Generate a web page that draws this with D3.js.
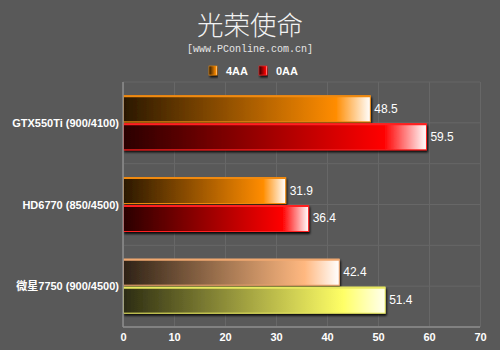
<!DOCTYPE html>
<html>
<head>
<meta charset="utf-8">
<script src="https://cdn.jsdelivr.net/npm/d3@7"></script>
<style>
  html, body { margin: 0; padding: 0; background: #595959; }
  #chart { width: 500px; height: 350px; }
</style>
</head>
<body>
<div id="chart"></div>
<script>
const categories = ["GTX550Ti (900/4100)", "HD6770 (850/4500)", "微星7750 (900/4500)"];
const seriesNames = ["4AA", "0AA"];
const values4AA = [48.5, 31.9, 42.4];
const values0AA = [59.5, 36.4, 51.4];
const xTicks = [0, 10, 20, 30, 40, 50, 60, 70];

// colour ramps per category / series: [dark, full, light, edge]
const palette = [
    [["#2a1804", "#ff8c00", "#ffffff", "#f08a10"], ["#2a0000", "#ff0000", "#ffffff", "#ff2020"]],
    [["#2a1804", "#ff8c00", "#ffffff", "#f08a10"], ["#2a0000", "#ff0000", "#ffffff", "#ff2020"]],
    [["#2e2216", "#ffb880", "#ffffff", "#f0a870"], ["#2c2c12", "#ffff66", "#ffffee", "#e8e860"]]
];
const fullStop = ["86%", "86%", "84%"];

const width = 500, height = 350;
const margin = { top: 82, right: 20, bottom: 23, left: 123 };
const plotH = height - margin.top - margin.bottom;

const svg = d3.select("#chart").append("svg")
    .attr("width", width)
    .attr("height", height);

const defs = svg.append("defs");
const shadow = defs.append("filter").attr("id", "shadow")
    .attr("x", "-5%").attr("y", "-20%").attr("width", "115%").attr("height", "160%");
shadow.append("feDropShadow")
    .attr("dx", 1).attr("dy", 2).attr("stdDeviation", 0.8)
    .attr("flood-color", "#000").attr("flood-opacity", 0.9);

palette.forEach((cat, ci) => {
    cat.forEach((c, si) => {
        const g = defs.append("linearGradient")
            .attr("id", `grad-${ci}-${si}`)
            .attr("x1", "0%").attr("x2", "100%").attr("y1", "0%").attr("y2", "0%");
        g.append("stop").attr("offset", "0%").attr("stop-color", c[0]);
        g.append("stop").attr("offset", fullStop[ci]).attr("stop-color", c[1]);
        g.append("stop").attr("offset", "100%").attr("stop-color", c[2]);
    });
});

// title
svg.append("text")
    .attr("x", width / 2)
    .attr("y", 35)
    .attr("text-anchor", "middle")
    .attr("fill", "#f2f2f2")
    .style("font-family", "'Noto Sans CJK SC', sans-serif")
    .style("font-weight", "300")
    .style("font-size", "26.5px")
    .text("光荣使命");

svg.append("text")
    .attr("x", width / 2)
    .attr("y", 52)
    .attr("text-anchor", "middle")
    .attr("fill", "#e6e6e6")
    .style("font-family", "'Liberation Mono', 'DejaVu Sans Mono', monospace")
    .style("font-size", "10px")
    .text("[www.PConline.com.cn]");

// legend
const legendX = [209, 259];
seriesNames.forEach((name, i) => {
    svg.append("rect")
        .attr("x", legendX[i])
        .attr("y", 66)
        .attr("width", 8)
        .attr("height", 9)
        .attr("fill", `url(#grad-0-${i})`)
        .attr("stroke", palette[0][i][3])
        .attr("stroke-width", 0.6)
        .attr("filter", "url(#shadow)");
    svg.append("text")
        .attr("x", legendX[i] + 17)
        .attr("y", 75)
        .attr("fill", "#ffffff")
        .style("font-family", "'Liberation Sans', Arial, sans-serif")
        .style("font-weight", "bold")
        .style("font-size", "11px")
        .text(name);
});

const g = svg.append("g")
    .attr("transform", `translate(${margin.left},${margin.top})`);

const x = d3.scaleLinear().domain([0, 70]).range([0, 357]);
const y = d3.scaleBand().domain(categories).range([0, plotH]);
const ySub = d3.scaleBand().domain(seriesNames)
    .range([y.bandwidth() / 2 - 27, y.bandwidth() / 2 + 27]).paddingInner(0.07);

// grid
g.append("g")
    .call(d3.axisBottom(x).tickValues(xTicks).tickSize(plotH).tickFormat(""))
    .call(s => s.select(".domain").remove())
    .selectAll("line")
    .attr("stroke", "#676767")
    .attr("stroke-width", 1);

const hLines = d3.range(0, 7).map(i => i * plotH / 6);
g.append("g").selectAll("line").data(hLines).join("line")
    .attr("x1", 0).attr("x2", x(70))
    .attr("y1", d => d).attr("y2", d => d)
    .attr("stroke", "#676767");

// bars
const rows = [];
categories.forEach((c, ci) => {
    rows.push({ cat: c, ci, si: 0, s: seriesNames[0], v: values4AA[ci] });
    rows.push({ cat: c, ci, si: 1, s: seriesNames[1], v: values0AA[ci] });
});

const bars = g.append("g").selectAll("g").data(rows).join("g")
    .attr("transform", d => `translate(0,${y(d.cat) + ySub(d.s)})`);

bars.append("rect")
    .attr("x", 0.5)
    .attr("y", 0)
    .attr("width", d => x(d.v) - 0.5)
    .attr("height", ySub.bandwidth())
    .attr("fill", d => `url(#grad-${d.ci}-${d.si})`)
    .attr("stroke", d => palette[d.ci][d.si][3])
    .attr("stroke-width", 1)
    .attr("filter", "url(#shadow)");

bars.append("line")
    .attr("x1", 0.5).attr("x2", d => x(d.v))
    .attr("y1", 0.5).attr("y2", 0.5)
    .attr("stroke", d => palette[d.ci][d.si][3])
    .attr("stroke-width", 2);

bars.append("text")
    .attr("x", d => x(d.v) + 4)
    .attr("y", ySub.bandwidth() / 2 + 4)
    .attr("fill", "#ffffff")
    .style("font-family", "'Liberation Sans', Arial, sans-serif")
    .style("font-size", "12px")
    .text(d => d.v.toFixed(1));

// axes
g.append("line")
    .attr("x1", 0).attr("x2", 0).attr("y1", 0).attr("y2", plotH)
    .attr("stroke", "#8c8c8c").attr("stroke-width", 1.5);
g.append("line")
    .attr("x1", 0).attr("x2", x(70)).attr("y1", plotH).attr("y2", plotH)
    .attr("stroke", "#8c8c8c").attr("stroke-width", 1.5);

g.append("g")
    .attr("transform", `translate(0,${plotH})`)
    .call(d3.axisBottom(x).tickValues(xTicks).tickSize(0).tickPadding(6))
    .call(s => s.select(".domain").remove())
    .selectAll("text")
    .attr("fill", "#ffffff")
    .style("font-family", "'Liberation Sans', Arial, sans-serif")
    .style("font-weight", "bold")
    .style("font-size", "11px");

g.append("g")
    .selectAll("text").data(categories).join("text")
    .attr("x", -4)
    .attr("y", d => y(d) + y.bandwidth() / 2 + 4)
    .attr("text-anchor", "end")
    .attr("fill", "#ffffff")
    .style("font-family", "'Liberation Sans', 'Noto Sans CJK SC', Arial, sans-serif")
    .style("font-weight", "bold")
    .style("font-size", "11px")
    .text(d => d);
</script>
</body>
</html>
